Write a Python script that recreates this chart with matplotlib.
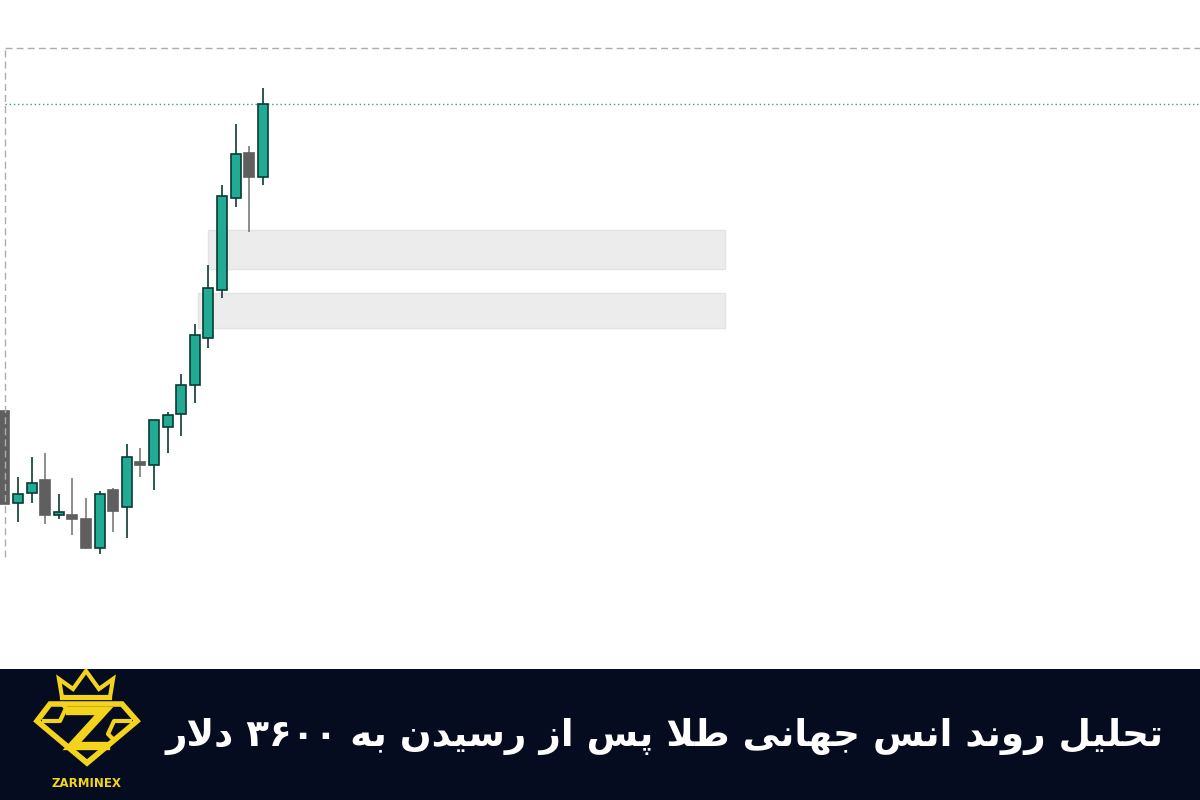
import re
import matplotlib
matplotlib.use("Agg")
import matplotlib.pyplot as plt
from matplotlib.patches import Rectangle, Polygon

# daily gold candles (USD/oz), oldest first
opens = [3400, 3343, 3349, 3357, 3335, 3335, 3333, 3315, 3351, 3340,
         3368, 3366, 3390, 3398, 3416, 3445, 3475, 3532, 3560, 3545]
highs = [3400, 3359, 3371, 3374, 3348, 3358, 3346, 3350, 3352, 3379,
         3377, 3394, 3399, 3423, 3454, 3490, 3540, 3578, 3564, 3600]
lows = [3342, 3331, 3343, 3330, 3333, 3323, 3314, 3311, 3325, 3321,
        3359, 3351, 3374, 3384, 3405, 3439, 3470, 3526, 3511, 3540]
closes = [3342, 3348, 3355, 3335, 3337, 3333, 3315, 3348, 3338, 3371,
          3366, 3394, 3397, 3416, 3447, 3476, 3533, 3559, 3545, 3590]

# demand zones: (top, bottom, first candle, last bar)
zone_top = [3512, 3473]
zone_bottom = [3488, 3451]
zone_start = [15.0, 14.2]
zone_end = [53.0, 53.0]

frame_high = 3625
frame_low = 3309

title = "تحلیل روند انس جهانی طلا پس از رسیدن به ۳۶۰۰ دلار"
brand = "ZARMINEX"

BULL = "#22ab94"
BULL_EDGE = "#0c3a33"
BEAR = "#5f5f5f"
BEAR_WICK = "#7a7a7a"
GOLD = "#f3d31c"
NAVY = "#060c1f"

# --- minimal persian shaping (matplotlib has no bidi / joining) ---
FORMS = {
    "ا": (0xFE8D, 0xFE8E, None, None),
    "ب": (0xFE8F, 0xFE90, 0xFE91, 0xFE92),
    "پ": (0xFB56, 0xFB57, 0xFB58, 0xFB59),
    "ت": (0xFE95, 0xFE96, 0xFE97, 0xFE98),
    "ج": (0xFE9D, 0xFE9E, 0xFE9F, 0xFEA0),
    "ح": (0xFEA1, 0xFEA2, 0xFEA3, 0xFEA4),
    "د": (0xFEA9, 0xFEAA, None, None),
    "ر": (0xFEAD, 0xFEAE, None, None),
    "ز": (0xFEAF, 0xFEB0, None, None),
    "س": (0xFEB1, 0xFEB2, 0xFEB3, 0xFEB4),
    "ط": (0xFEC1, 0xFEC2, 0xFEC3, 0xFEC4),
    "ل": (0xFEDD, 0xFEDE, 0xFEDF, 0xFEE0),
    "ن": (0xFEE5, 0xFEE6, 0xFEE7, 0xFEE8),
    "ه": (0xFEE9, 0xFEEA, 0xFEEB, 0xFEEC),
    "و": (0xFEED, 0xFEEE, None, None),
    "ی": (0xFBFC, 0xFBFD, 0xFBFE, 0xFBFF),
}


def shape(s):
    out = []
    n = len(s)
    i = 0
    while i < n:
        c = s[i]
        if c not in FORMS:
            out.append(c)
            i += 1
            continue
        prev = s[i - 1] if i > 0 else ""
        joins_prev = prev in FORMS and FORMS[prev][2] is not None
        if c == "ل" and i + 1 < n and s[i + 1] == "ا":
            out.append(chr(0xFEFC if joins_prev else 0xFEFB))
            i += 2
            continue
        nxt = s[i + 1] if i + 1 < n else ""
        joins_next = FORMS[c][2] is not None and nxt in FORMS
        iso, fin, ini, med = FORMS[c]
        if joins_prev and joins_next:
            g = med
        elif joins_prev:
            g = fin
        elif joins_next:
            g = ini
        else:
            g = iso
        out.append(chr(g))
        i += 1
    vis = "".join(out)[::-1]
    return re.sub("[۰-۹0-9]+", lambda m: m.group(0)[::-1], vis)


fig = plt.figure(figsize=(12, 8), dpi=100)
fig.patch.set_facecolor("white")

ax = fig.add_axes([0, 131 / 800, 1, 669 / 800])
ax.set_xlim(-0.32, 87.9)
ax.set_ylim(3239.8, 3654.6)
ax.axis("off")

# frame lines
ax.hlines(frame_high, 0.05, 87.9, color="#adadad", lw=1, linestyles=(0, (5, 3)))
ax.vlines(0.05, frame_low, frame_high, color="#adadad", lw=1, linestyles=(0, (5, 3)), zorder=5)
ax.hlines(closes[-1], 0.05, 87.9, color="#2aa58e", lw=1, linestyles=(0, (1, 2)))

for t, b, s, e in zip(zone_top, zone_bottom, zone_start, zone_end):
    ax.add_patch(Rectangle((s, b), e - s, t - b, facecolor="#ececec",
                           edgecolor="#e3e3e3", lw=1, zorder=1))

w = 0.74
for i, (o, h, l, c) in enumerate(zip(opens, highs, lows, closes)):
    bull = c >= o
    ax.vlines(i, l, h, color=BULL_EDGE if bull else BEAR_WICK, lw=1.2, zorder=2)
    ax.add_patch(Rectangle((i - w / 2, min(o, c)), w, max(abs(c - o), 1.2),
                           facecolor=BULL if bull else BEAR,
                           edgecolor=BULL_EDGE if bull else BEAR,
                           lw=1.2, zorder=3))

# bottom banner
axb = fig.add_axes([0, 0, 1, 131 / 800])
axb.set_xlim(0, 1200)
axb.set_ylim(800, 669)
axb.set_facecolor(NAVY)
axb.set_xticks([])
axb.set_yticks([])
for sp in axb.spines.values():
    sp.set_visible(False)

txt = axb.text(1163, 736, shape(title), ha="right", va="center", color="white",
               fontsize=30, fontweight="bold", family=["DejaVu Sans"])
fig.canvas.draw()
bw = txt.get_window_extent(fig.canvas.get_renderer()).width
txt.set_fontsize(30 * 998 / bw)

# logo
crown = [(62, 697), (59, 679), (73, 689), (86, 671), (99, 689), (113, 679), (110, 697)]
axb.add_patch(Polygon(crown, closed=True, facecolor="none", edgecolor=GOLD, lw=3, joinstyle="miter"))
axb.plot([62, 110], [698, 698], color=GOLD, lw=3)
gem = [(50, 704), (122, 704), (137, 721), (87, 763), (37, 721)]
axb.add_patch(Polygon(gem, closed=True, facecolor="none", edgecolor=GOLD, lw=4, joinstyle="miter"))
axb.plot([44, 60, 66, 62], [721, 721, 708, 704], color=GOLD, lw=3)
axb.plot([130, 114, 108, 112], [721, 721, 734, 738], color=GOLD, lw=3)
axb.plot([70, 104, 72, 106], [711, 711, 746, 746], color=GOLD, lw=6, solid_joinstyle="miter")
axb.plot([72, 87, 102], [750, 762, 750], color=GOLD, lw=3)
axb.text(86, 783, brand, ha="center", va="center", color=GOLD, fontsize=8.5,
         fontweight="bold", family="DejaVu Sans")

fig.savefig("out.png", dpi=100, facecolor=fig.get_facecolor())
